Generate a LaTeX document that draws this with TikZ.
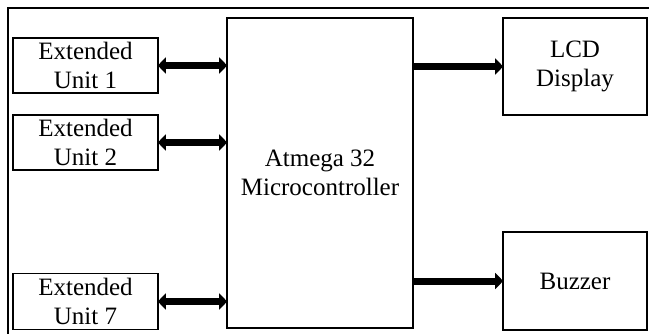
\documentclass[tikz,border=0pt]{standalone}
\usepackage{fontspec}
\setmainfont{Liberation Serif}
\usetikzlibrary{arrows.meta, positioning}
\tikzset{every node/.style={font=\rmfamily\fontsize{25}{29}\selectfont}}

\begin{document}
\begin{tikzpicture}[x=1pt, y=-1pt,
    blk/.style={draw, line width=1.6pt, align=center, inner sep=2pt},
    bus/.style={line width=7pt, {Triangle[width=16pt,length=8pt]}-{Triangle[width=16pt,length=8pt]}, shorten <=-1pt, shorten >=-1pt},
    outp/.style={line width=7pt, -{Triangle[width=16pt,length=8pt]}, shorten >=-1pt}]
    \useasboundingbox (0,0) rectangle (649,333);
    \draw[line width=2pt] (8,8) rectangle (665,345);
    \node[blk, minimum width=186pt, minimum height=310pt] (MCU) at (320,173) {Atmega 32\\Microcontroller};
    \node[blk, minimum width=145pt, minimum height=55pt] (U1) at (85.5,65.5) {Extended\\Unit 1};
    \node[blk, minimum width=145pt, minimum height=55pt] (U2) at (85.5,142.5) {Extended\\Unit 2};
    \node[blk, minimum width=145pt, minimum height=56pt] (U7) at (85.5,301.5) {Extended\\Unit 7};
    \node[blk, minimum width=144pt, minimum height=97pt] (LCD) at (575,66.5) {LCD\\Display};
    \node[blk, minimum width=144pt, minimum height=98pt] (Buz) at (575,281) {Buzzer};
    \draw[bus] (U1.east) -- (MCU.west |- U1.east);
    \draw[bus] (U2.east) -- (MCU.west |- U2.east);
    \draw[bus] (U7.east) -- (MCU.west |- U7.east);
    \draw[outp] (MCU.east |- LCD.west) -- (LCD.west);
    \draw[outp] (MCU.east |- Buz.west) -- (Buz.west);
  \end{tikzpicture}
\end{document}
